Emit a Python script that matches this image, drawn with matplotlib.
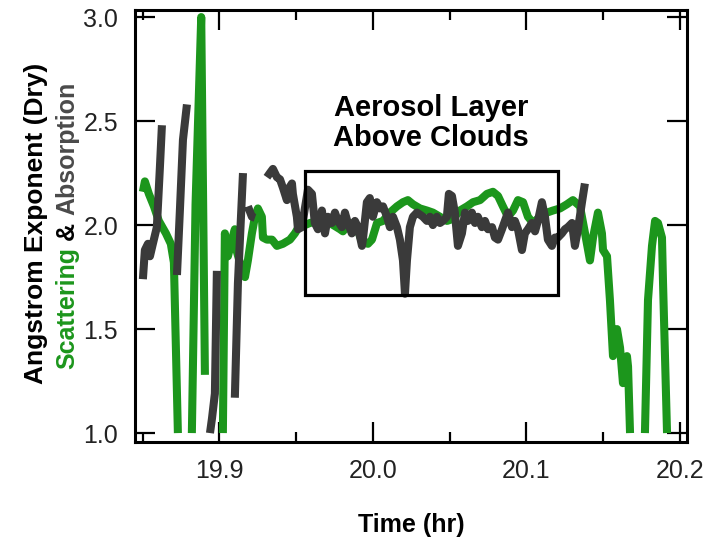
import numpy as np
import matplotlib
matplotlib.use("Agg")
import matplotlib.pyplot as plt
from matplotlib.patches import Rectangle
from matplotlib.ticker import MultipleLocator, FormatStrFormatter

plt.rcParams['font.family'] = ['Liberation Sans', 'DejaVu Sans']

nan = np.nan

# Scattering Angstrom exponent (green); nan marks gaps in the record
scat_time = [19.8502, 19.8515, 19.8541, 19.8574, 19.8606, 19.8652, 19.8684, 19.8704, 19.8730, nan,
             19.8821, 19.8845, 19.8882, 19.8906, nan,
             19.9023, 19.9036, 19.9056, 19.9082, 19.9101, 19.9115, 19.9134, 19.9167, 19.9186, 19.9212,
             19.9232, 19.9251, 19.9277, 19.9284, 19.9310, 19.9343, 19.9375, 19.9414, 19.9460, 19.9492,
             19.9525, 19.9557, 19.9590, 19.9655, 19.9720, 19.9786, 19.9805, 19.9851, 19.9890, 19.9929,
             19.9968, 19.9994, 20.0027, 20.0066, 20.0111, 20.0157, 20.0196, 20.0228, 20.0261, 20.0307,
             20.0352, 20.0391, 20.0437, 20.0483, 20.0522, 20.0567, 20.0613, 20.0652, 20.0698, 20.0743,
             20.0782, 20.0815, 20.0847, 20.0880, 20.0913, 20.0945, 20.0978, 20.1010, 20.1043, 20.1088,
             20.1134, 20.1173, 20.1219, 20.1264, 20.1303, 20.1349, 20.1382, 20.1414, 20.1434, 20.1466,
             20.1492, 20.1499, 20.1525, 20.1544, 20.1564, 20.1590, 20.1610, 20.1629, 20.1655, 20.1662,
             20.1675, nan,
             20.1772, 20.1792, 20.1818, 20.1838, 20.1857, 20.1883, 20.1890, 20.1916]
scat_ae = [2.16, 2.21, 2.15, 2.09, 2.02, 1.96, 1.91, 1.82, 1.00, nan,
           1.00, 2.10, 3.00, 1.28, nan,
           1.00, 1.96, 1.85, 1.93, 1.98, 1.87, 1.82, 1.75, 1.83, 1.96,
           2.04, 2.08, 2.04, 1.94, 1.93, 1.93, 1.90, 1.91, 1.93, 1.96,
           2.00, 2.00, 2.01, 2.02, 2.01, 1.98, 1.97, 2.01, 2.00, 1.92,
           1.91, 1.93, 2.01, 2.02, 2.06, 2.09, 2.11, 2.12, 2.10, 2.08,
           2.07, 2.06, 2.04, 2.02, 2.03, 2.07, 2.09, 2.11, 2.12, 2.15,
           2.16, 2.14, 2.09, 2.04, 2.07, 2.12, 2.11, 2.04, 2.01, 2.04,
           2.06, 2.07, 2.08, 2.10, 2.12, 2.09, 1.96, 1.83, 1.94, 2.06,
           1.96, 1.88, 1.85, 1.64, 1.37, 1.50, 1.41, 1.24, 1.37, 1.32,
           1.00, nan,
           1.00, 1.64, 1.90, 2.02, 2.01, 1.94, 1.72, 1.00]

# Absorption Angstrom exponent (dark grey)
abs_time = [19.8502, 19.8515, 19.8535, 19.8548, 19.8567, 19.8593, 19.8613, 19.8626, nan,
            19.8724, 19.8743, 19.8763, 19.8789, nan,
            19.8939, 19.8952, 19.8971, 19.8984, nan,
            19.9101, 19.9121, 19.9154, nan,
            19.9186, 19.9212, 19.9232, nan,
            19.9310, 19.9329, 19.9349, 19.9375, 19.9395, 19.9414, 19.9440, 19.9447, 19.9473, 19.9479,
            19.9505, 19.9512, 19.9538, 19.9557, 19.9577, 19.9603, 19.9622, 19.9642, 19.9668, 19.9688,
            19.9707, 19.9733, 19.9753, 19.9772, 19.9798, 19.9818, 19.9837, 19.9863, 19.9883, 19.9903,
            19.9929, 19.9935, 19.9961, 19.9980, 20.0000, 20.0026, 20.0046, 20.0066, 20.0092, 20.0111,
            20.0131, 20.0157, 20.0176, 20.0196, 20.0209, 20.0222, 20.0241, 20.0261, 20.0287, 20.0307,
            20.0326, 20.0352, 20.0372, 20.0391, 20.0417, 20.0437, 20.0456, 20.0482, 20.0495, 20.0515,
            20.0534, 20.0554, 20.0580, 20.0600, 20.0619, 20.0645, 20.0665, 20.0684, 20.0710, 20.0730,
            20.0750, 20.0776, 20.0795, 20.0815, 20.0841, 20.0860, 20.0880, 20.0906, 20.0925, 20.0945,
            20.0971, 20.0990, 20.1010, 20.1036, 20.1056, 20.1075, 20.1101, 20.1121, 20.1140, 20.1166,
            20.1186, 20.1205, 20.1231, 20.1251, 20.1270, 20.1297, 20.1316, 20.1336, 20.1362, 20.1381]
abs_ae = [1.74, 1.88, 1.91, 1.85, 1.91, 1.99, 2.28, 2.48, nan,
          1.76, 2.07, 2.41, 2.58, nan,
          1.00, 1.07, 1.19, 1.78, nan,
          1.17, 1.72, 2.25, nan,
          2.09, 2.04, 2.035, nan,
          2.23, 2.25, 2.27, 2.23, 2.22, 2.18, 2.12, 2.17, 2.20, 2.15,
          2.04, 1.98, 1.99, 2.08, 2.17, 2.15, 2.01, 1.98, 2.07, 1.96,
          2.04, 2.01, 2.06, 2.02, 1.99, 2.06, 2.01, 1.96, 2.02, 1.99,
          1.90, 1.93, 2.11, 2.13, 2.04, 2.11, 2.08, 2.09, 2.04, 1.99,
          2.04, 1.99, 1.93, 1.83, 1.67, 1.83, 1.99, 2.04, 2.06, 2.05,
          2.04, 2.02, 2.04, 2.00, 2.04, 2.01, 2.02, 2.04, 2.15, 2.14,
          2.06, 1.90, 1.96, 2.06, 2.02, 2.06, 2.01, 2.04, 1.99, 2.02,
          1.98, 1.99, 1.94, 1.93, 1.98, 2.02, 2.06, 1.99, 2.02, 1.98,
          1.88, 1.96, 1.98, 2.01, 1.97, 2.02, 2.11, 2.04, 1.93, 1.90,
          1.94, 1.94, 1.96, 1.98, 1.99, 2.01, 1.90, 1.98, 2.11, 2.20]

# aerosol-above-cloud box (time range, AE range)
box_time = [19.9557, 20.1205]
box_ae = [1.665, 2.258]

x_ticks = [19.9, 20.0, 20.1, 20.2]
y_ticks = [1.0, 1.5, 2.0, 2.5, 3.0]

GREEN = '#1c961c'
DARK = '#3a3a3a'

fig = plt.figure(figsize=(7.1, 5.38), dpi=100)
ax = fig.add_axes([0.190, 0.1784, 0.7776, 0.803])

ax.plot(scat_time, scat_ae, color=GREEN, lw=5.8, solid_capstyle='butt', solid_joinstyle='round', zorder=2)
ax.plot(abs_time, abs_ae, color=DARK, lw=5.8, solid_capstyle='butt', solid_joinstyle='round', zorder=3)

ax.add_patch(Rectangle((box_time[0], box_ae[0]), box_time[1] - box_time[0], box_ae[1] - box_ae[0],
                       fill=False, ec='black', lw=2.3, zorder=4))
ax.text(np.mean(box_time), 2.49, "Aerosol Layer\nAbove Clouds", ha='center', va='center',
        fontsize=21, fontweight='bold', linespacing=1.1)

ax.set_xlim(19.845, 20.2046)
ax.set_ylim(0.957, 3.034)
ax.set_xticks(x_ticks)
ax.set_yticks(y_ticks)
ax.xaxis.set_minor_locator(MultipleLocator(0.05))
ax.xaxis.set_major_formatter(FormatStrFormatter('%.1f'))
ax.yaxis.set_major_formatter(FormatStrFormatter('%.1f'))
ax.tick_params(which='both', direction='in', top=True, right=True, width=1.6, labelsize=18,
               labelcolor='#222222')
ax.tick_params(which='major', length=14.5)
ax.tick_params(which='minor', length=7.5)
ax.tick_params(axis='x', pad=12)
ax.tick_params(axis='y', pad=12)
for sp in ax.spines.values():
    sp.set_linewidth(2.2)

ax.set_xlabel("Time (hr)", fontsize=18, fontweight='bold', labelpad=22)

# two-line y label, second line in the series colours
W, H = 710, 538
fig.text(36 / W, 1 - 223 / H, "Angstrom Exponent (Dry)", rotation=90, ha='center', va='center',
         fontsize=19, fontweight='bold')
parts = ["Scattering", "&", "Absorption"]
part_colors = [GREEN, 'black', '#4a4a4a']
renderer = fig.canvas.get_renderer()
pieces = [fig.text(0, 0, s, rotation=90, ha='center', va='bottom', color=c, fontsize=18,
                   fontweight='bold') for s, c in zip(parts, part_colors)]
heights = [p.get_window_extent(renderer).height for p in pieces]
gap = 0.278 * 18 * 100 / 72
y0 = (H - 225) - (sum(heights) + gap * (len(pieces) - 1)) / 2
for p, h in zip(pieces, heights):
    p.set_position((67 / W, y0 / H))
    y0 += h + gap

fig.savefig("out.png", dpi=100)
